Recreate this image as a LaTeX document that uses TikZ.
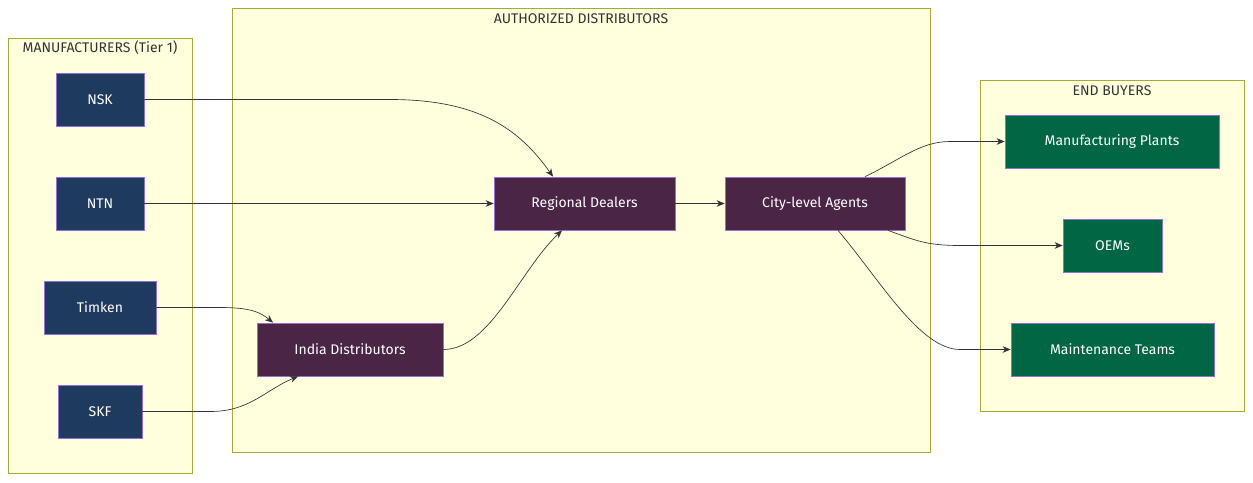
\documentclass[tikz,border=0pt]{standalone}
\usepackage{fontspec}
\setmainfont{Fira Sans}
\usetikzlibrary{arrows.meta}
\definecolor{clfill}{HTML}{FFFFDE}
\definecolor{cldraw}{HTML}{AAAA33}
\definecolor{mfill}{HTML}{1F3A5F}
\definecolor{dfill}{HTML}{4A2545}
\definecolor{efill}{HTML}{006644}
\definecolor{nb}{HTML}{9370DB}
\tikzset{
 cl/.style={draw=cldraw,fill=clfill,line width=0.6pt},
 cltext/.style={text=black!80,font=\fontsize{10.5}{12}\selectfont},
 box/.style={draw=nb,line width=0.6pt,text=white,font=\fontsize{10.5}{12}\selectfont,minimum height=53*0.75pt,inner sep=0pt},
 mf/.style={box,fill=mfill},
 df/.style={box,fill=dfill},
 ef/.style={box,fill=efill},
 ar/.style={draw=black!80,line width=0.5pt,-{Stealth[length=6pt,width=5pt]}}
}
\begin{document}
\begin{tikzpicture}[x=0.75pt,y=-0.75pt]
\useasboundingbox (0,0) rectangle (1253,482);
\draw[cl] (8,38) rectangle (192,473);
\node[cltext] at (100,48) {MANUFACTURERS (Tier 1)};
\draw[cl] (232,8) rectangle (930,452);
\node[cltext] at (581,19) {AUTHORIZED DISTRIBUTORS};
\draw[cl] (980,80) rectangle (1244,411);
\node[cltext] at (1112,91) {END BUYERS};
\node[mf,minimum width=88*0.75pt] (nsk) at (100,99.5) {NSK};
\node[mf,minimum width=88*0.75pt] (ntn) at (100,203.5) {NTN};
\node[mf,minimum width=112*0.75pt] (tim) at (100,307.5) {Timken};
\node[mf,minimum width=84*0.75pt] (skf) at (100,411.5) {SKF};
\node[df,minimum width=186*0.75pt] (ind) at (350,349.5) {India Distributors};
\node[df,minimum width=181*0.75pt] (reg) at (584.5,203.5) {Regional Dealers};
\node[df,minimum width=180*0.75pt] (city) at (815,203.5) {City-level Agents};
\node[ef,minimum width=214*0.75pt] (mp) at (1112,141.5) {Manufacturing Plants};
\node[ef,minimum width=99*0.75pt] (oem) at (1112.5,245.5) {OEMs};
\node[ef,minimum width=203*0.75pt] (mt) at (1112.5,349.5) {Maintenance Teams};
\draw[ar] (nsk.east) -- (390,99.5) .. controls (480,99.5) and (520,130) .. ([xshift=-31.5*0.75pt]reg.north);
\draw[ar] (ntn.east) -- (reg.west);
\draw[ar] (tim.east) -- (220,307.5) .. controls (250,307.5) and (260,312) .. ([xshift=-77*0.75pt]ind.north);
\draw[ar] (skf.east) -- (210,411.5) .. controls (250,411.5) and (265,390) .. ([xshift=-52*0.75pt]ind.south);
\draw[ar] (ind.east) .. controls (490,349.5) and (520,270) .. ([xshift=-22.5*0.75pt]reg.south);
\draw[ar] (reg.east) -- (city.west);
\draw[ar] ([xshift=50*0.75pt]city.north) .. controls (900,160) and (920,141.5) .. (950,141.5) -- (mp.west);
\draw[ar] ([xshift=73*0.75pt]city.south) .. controls (915,240) and (925,245.5) .. (960,245.5) -- (oem.west);
\draw[ar] ([xshift=23*0.75pt]city.south) .. controls (880,280) and (920,349.5) .. (960,349.5) -- (mt.west);
\end{tikzpicture}
\end{document}
